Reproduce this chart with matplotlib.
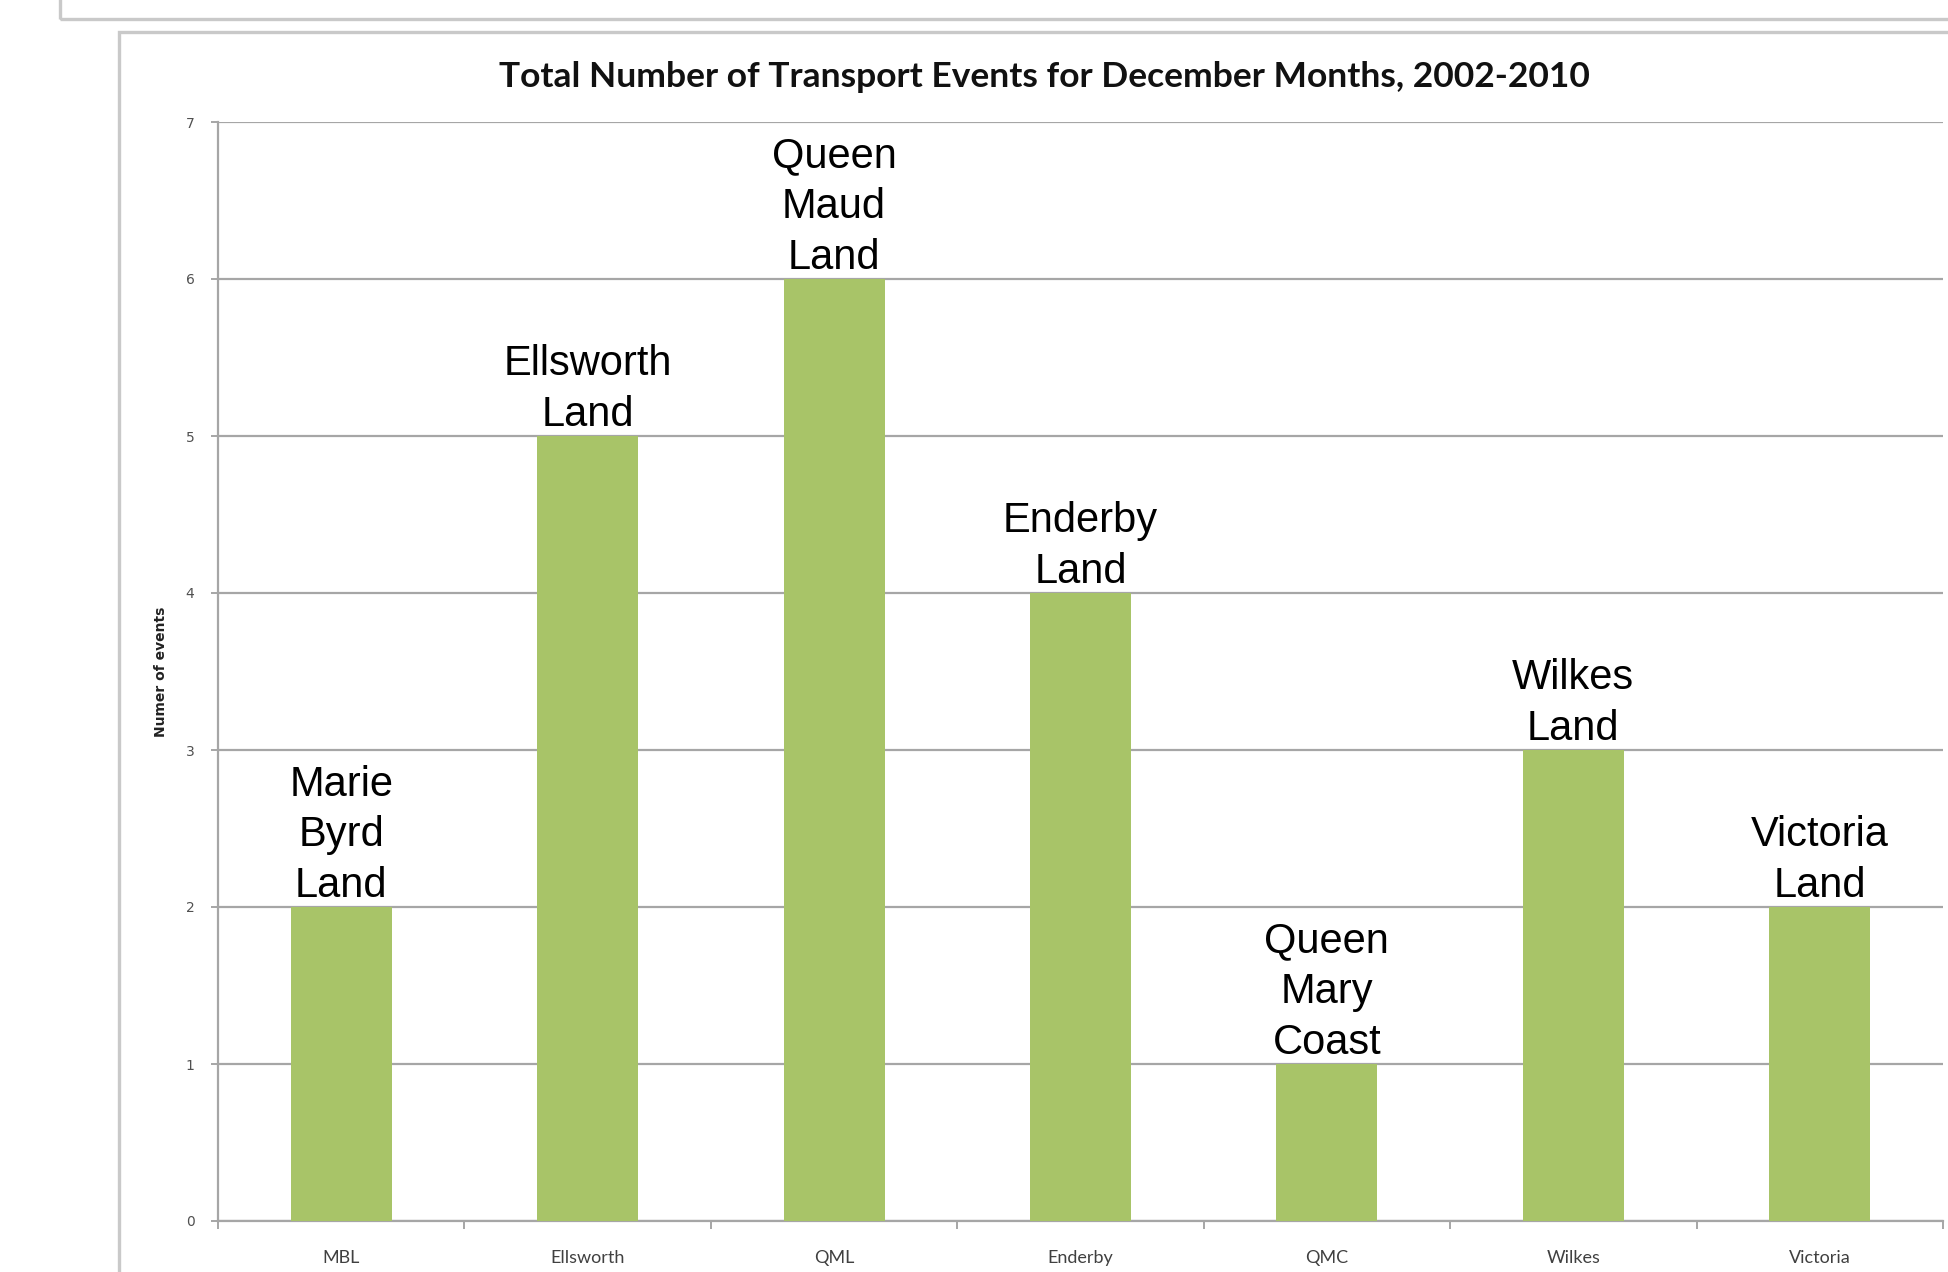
"""
Total number of transport events for December months, 2002-2010 (bar chart)
"""

import matplotlib.pyplot as plt
import matplotlib.patches as mpatches
import numpy as np

W, H = 1948, 1272

categories = ['MBL', 'Ellsworth', 'QML', 'Enderby', 'QMC', 'Wilkes', 'Victoria']
events = [2, 5, 6, 4, 1, 3, 2]
region_names = ['Marie\nByrd\nLand', 'Ellsworth\nLand', 'Queen\nMaud\nLand', 'Enderby\nLand',
                'Queen\nMary\nCoast', 'Wilkes\nLand', 'Victoria\nLand']
y_ticks = [0, 1, 2, 3, 4, 5, 6, 7]

title = 'Total Number of Transport Events for December Months, 2002-2010'
y_label = 'Numer of events'

bar_color = '#a8c468'
grid_color = '#a6a6a6'
frame_color = '#c9c9c9'


def px_box(x0, y0, x1, y1):
    """Pixel box (top-left origin) -> figure fraction [left, bottom, width, height]."""
    return [x0 / W, 1 - y1 / H, (x1 - x0) / W, (y1 - y0) / H]


fig = plt.figure(figsize=(W / 100, H / 100), dpi=100)

# screenshot frames: upper box edge and the chart area border
for (x0, y0, x1, y1) in [(60, -40, 2100, 19), (119, 32, 2100, 1400)]:
    l, b, w, h = px_box(x0, y0, x1, y1)
    fig.patches.append(mpatches.Rectangle((l, b), w, h, transform=fig.transFigure,
                                          fill=False, edgecolor=frame_color, linewidth=2.4,
                                          clip_on=False))

ax = fig.add_axes(px_box(218, 122, 1943, 1221))

x = np.arange(len(categories))
bars = ax.bar(x, events, width=0.41, color=bar_color, zorder=3)

for rect, name in zip(bars, region_names):
    ax.annotate(name, (rect.get_x() + rect.get_width() / 2, rect.get_height()),
                xytext=(0, 1), textcoords='offset points', ha='center', va='bottom',
                fontsize=30, family='Liberation Sans', linespacing=1.34, zorder=4)

ax.set_xlim(-0.5, len(categories) - 0.5)
ax.set_ylim(0, 7)
ax.set_yticks(y_ticks)
ax.yaxis.grid(True, color=grid_color, linewidth=1.6, zorder=0)
ax.set_axisbelow(True)

ax.set_xticks(x)
ax.set_xticklabels(categories, fontsize=13, family='Lato', color='#404040')
ax.set_xticks(np.arange(-0.5, len(categories)), minor=True)
ax.tick_params(axis='x', which='major', length=0, pad=21)
ax.tick_params(axis='x', which='minor', length=6, width=1.4, color=grid_color, direction='out')
ax.tick_params(axis='y', length=5, width=1.4, color=grid_color, pad=12,
               labelsize=10, labelcolor='#505050')

for side in ['top', 'right']:
    ax.spines[side].set_visible(False)
for side in ['left', 'bottom']:
    ax.spines[side].set_color(grid_color)
    ax.spines[side].set_linewidth(1.6)

fig.text(161 / W, 1 - 672 / H, y_label, rotation=90, ha='center', va='center',
         fontsize=10, fontweight='bold', family=['Liberation Sans Narrow', 'DejaVu Sans'],
         color='#222222')
fig.text(1044 / W, 1 - 77 / H, title, ha='center', va='center',
         fontsize=25.5, fontweight='bold', family='Lato', color='#111111')

plt.savefig('out.png', dpi=100)
